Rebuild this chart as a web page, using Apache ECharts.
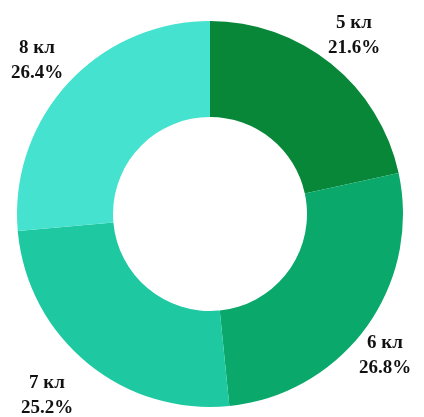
<!DOCTYPE html>
<html>
<head>
<meta charset="utf-8">
<script src="https://cdn.jsdelivr.net/npm/echarts@6/dist/echarts.min.js"></script>
<style>html,body{margin:0;padding:0;background:#fff}#c{width:424px;height:417px}</style>
</head>
<body>
<div id="c"></div>
<script>
const categories = ['5 кл', '6 кл', '7 кл', '8 кл'];
const values = [21.6, 26.8, 25.2, 26.4];
const colors = ['#078737', '#0aa86b', '#1ec8a0', '#45e2cf'];
const labelPos = [[354, 36], [385, 356], [47, 396], [37, 61]];

const chart = echarts.init(document.getElementById('c'));
chart.setOption({
  animation: false,
  series: [{
    type: 'pie',
    center: [210, 214],
    radius: [97, 193],
    startAngle: 90,
    clockwise: true,
    avoidLabelOverlap: false,
    data: categories.map((c, i) => ({ name: c, value: values[i], itemStyle: { color: colors[i] } })),
    label: {
      show: true,
      position: 'outside',
      overflow: 'none',
      formatter: p => p.name + '\n' + values[p.dataIndex].toFixed(1) + '%',
      fontFamily: 'Liberation Serif, Times New Roman, serif',
      fontWeight: 'bold',
      fontSize: 19,
      lineHeight: 25,
      color: '#111',
      align: 'center'
    },
    labelLine: { show: false },
    labelLayout: p => ({ x: labelPos[p.dataIndex][0], y: labelPos[p.dataIndex][1], align: 'center', verticalAlign: 'middle', hideOverlap: false, width: 80 })
  }]
});
</script>
</body>
</html>
